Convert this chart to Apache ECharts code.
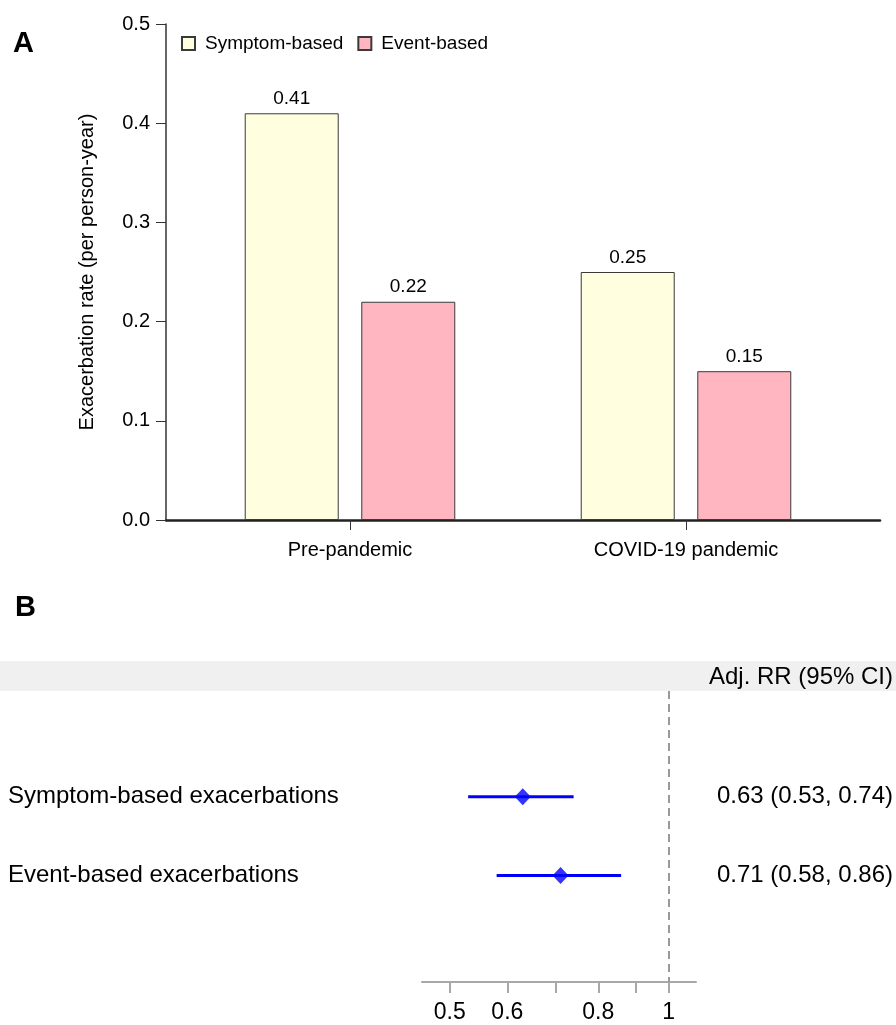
<!DOCTYPE html>
<html><head><meta charset="utf-8">
<script src="https://cdn.jsdelivr.net/npm/echarts@6/dist/echarts.min.js"></script>
<style>html,body{margin:0;padding:0;background:#fff}#c{width:896px;height:1025px}</style>
</head><body><div id="c"></div>
<script>
// ---- data ----
const periods = ['Pre-pandemic', 'COVID-19 pandemic'];
const seriesNames = ['Symptom-based', 'Event-based'];
const symptomRates = [0.41, 0.25];
const eventRates = [0.22, 0.15];
const outcomes = ['Symptom-based exacerbations', 'Event-based exacerbations'];
const rrEst = [0.63, 0.71];
const rrLow = [0.53, 0.58];
const rrHigh = [0.74, 0.86];
const rrTicks = [0.5, 0.6, 0.7, 0.8, 0.9, 1];
const rrTickLabels = [0.5, 0.6, 0.8, 1];

const FONT = '"Liberation Sans", Arial, Helvetica, sans-serif';
const chart = echarts.init(document.getElementById('c'), null, {renderer: 'canvas'});
const rowIdx = outcomes.map((_, i) => i + 1);
const rrText = outcomes.map((_, i) => rrEst[i].toFixed(2) + ' (' + rrLow[i].toFixed(2) + ', ' + rrHigh[i].toFixed(2) + ')');

const option = {
  animation: false,
  backgroundColor: '#fff',
  textStyle: {fontFamily: FONT},
  graphic: [
    {type: 'rect', shape: {x: 0, y: 661, width: 896, height: 30}, style: {fill: '#f0f0f0'}, z: -10},
    {type: 'text', x: 893, y: 677, style: {text: 'Adj. RR (95% CI)', textAlign: 'right', textVerticalAlign: 'middle', font: '24px ' + FONT, fill: '#000'}},
    {type: 'text', x: 13, y: 44, style: {text: 'A', textAlign: 'left', textVerticalAlign: 'middle', font: 'bold 29px ' + FONT, fill: '#000'}},
    {type: 'text', x: 15, y: 608, style: {text: 'B', textAlign: 'left', textVerticalAlign: 'middle', font: 'bold 29px ' + FONT, fill: '#000'}}
  ],
  legend: {
    data: seriesNames,
    left: 176, top: 29,
    itemWidth: 13, itemHeight: 13, itemGap: 14,
    icon: 'rect',
    textStyle: {fontSize: 19, color: '#000', fontFamily: FONT, padding: [0, 0, 0, 5]}
  },
  grid: [
    {left: 182, right: 42, top: 24, height: 496},
    {left: 166, right: 16, top: 24, height: 496},
    {left: 422, right: 200, top: 691, bottom: 43}
  ],
  xAxis: [
    {type: 'category', gridIndex: 0, data: periods,
     axisLine: {show: false},
     axisTick: {show: true, alignWithLabel: true, length: 10, lineStyle: {color: '#333', width: 1}},
     axisLabel: {fontSize: 20, color: '#000', margin: 20}},
    {type: 'value', gridIndex: 1, min: 0, max: 1,
     axisLine: {show: true, onZero: false, lineStyle: {color: '#222', width: 2.5}},
     axisTick: {show: false}, axisLabel: {show: false}, splitLine: {show: false}},
    {type: 'log', gridIndex: 2, min: 0.458, max: 1.09,
     axisLine: {show: true, onZero: false, lineStyle: {color: '#a8a8a8', width: 2}},
     axisTick: {show: true, customValues: rrTicks, length: 11, lineStyle: {color: '#a8a8a8', width: 2}},
     axisLabel: {show: true, customValues: rrTickLabels, fontSize: 23, color: '#000', margin: 19,
                 formatter: v => String(Math.round(v * 10) / 10)},
     splitLine: {show: false}, minorTick: {show: false}}
  ],
  yAxis: [
    {type: 'value', gridIndex: 0, min: 0, max: 0.5, interval: 0.1, offset: 16,
     axisLine: {show: true, lineStyle: {color: '#333', width: 1.5}},
     axisTick: {show: true, length: 10, lineStyle: {color: '#333', width: 1}},
     axisLabel: {fontSize: 20, color: '#000', margin: 16, formatter: v => v.toFixed(1)},
     splitLine: {show: false},
     name: 'Exacerbation rate (per person-year)', nameLocation: 'middle', nameGap: 69,
     nameTextStyle: {fontSize: 20, color: '#000', fontFamily: FONT}},
    {type: 'value', gridIndex: 1, min: 0, max: 1, show: false},
    {type: 'value', gridIndex: 2, inverse: true, min: -0.342, max: 3.354,
     axisLine: {show: false}, axisTick: {show: false}, splitLine: {show: false},
     axisLabel: {customValues: rowIdx, formatter: v => outcomes[Math.round(v) - 1] || '',
                 align: 'left', margin: 414, fontSize: 24, color: '#000'}},
    {type: 'value', gridIndex: 2, position: 'right', inverse: true, min: -0.342, max: 3.354,
     axisLine: {show: false}, axisTick: {show: false}, splitLine: {show: false},
     axisLabel: {customValues: rowIdx, formatter: v => rrText[Math.round(v) - 1] || '',
                 align: 'right', margin: 197, fontSize: 24, color: '#000'}}
  ],
  series: [
    {name: seriesNames[0], type: 'bar', xAxisIndex: 0, yAxisIndex: 0, data: symptomRates,
     barWidth: 94, barGap: '24%',
     itemStyle: {color: '#FFFFE0', borderColor: '#3a3a3a', borderWidth: 1},
     label: {show: true, position: 'top', distance: 5, fontSize: 19, color: '#000', formatter: p => p.value.toFixed(2)}},
    {name: seriesNames[1], type: 'bar', xAxisIndex: 0, yAxisIndex: 0, data: eventRates,
     barWidth: 94,
     itemStyle: {color: '#FFB6C1', borderColor: '#3a3a3a', borderWidth: 1},
     label: {show: true, position: 'top', distance: 5, fontSize: 19, color: '#000', formatter: p => p.value.toFixed(2)}},
    {type: 'custom', xAxisIndex: 2, yAxisIndex: 2,
     data: outcomes.map((_, i) => [rrLow[i], rrHigh[i], i + 1]),
     encode: {x: [0, 1], y: 2},
     renderItem: (params, api) => {
       const a = api.coord([api.value(0), api.value(2)]);
       const b = api.coord([api.value(1), api.value(2)]);
       return {type: 'line', shape: {x1: a[0], y1: a[1], x2: b[0], y2: b[1]},
               style: {stroke: '#0000FF', lineWidth: 3}};
     }, z: 3},
    {type: 'scatter', xAxisIndex: 2, yAxisIndex: 2,
     data: outcomes.map((_, i) => [rrEst[i], i + 1]),
     symbol: 'diamond', symbolSize: [16, 17],
     itemStyle: {color: '#0000FF'}, z: 4,
     markLine: {silent: true, symbol: 'none', label: {show: false},
                lineStyle: {color: '#999', type: [8, 5], width: 2},
                data: [{xAxis: 1}]}}
  ]
};
chart.setOption(option);
</script>
</body></html>
